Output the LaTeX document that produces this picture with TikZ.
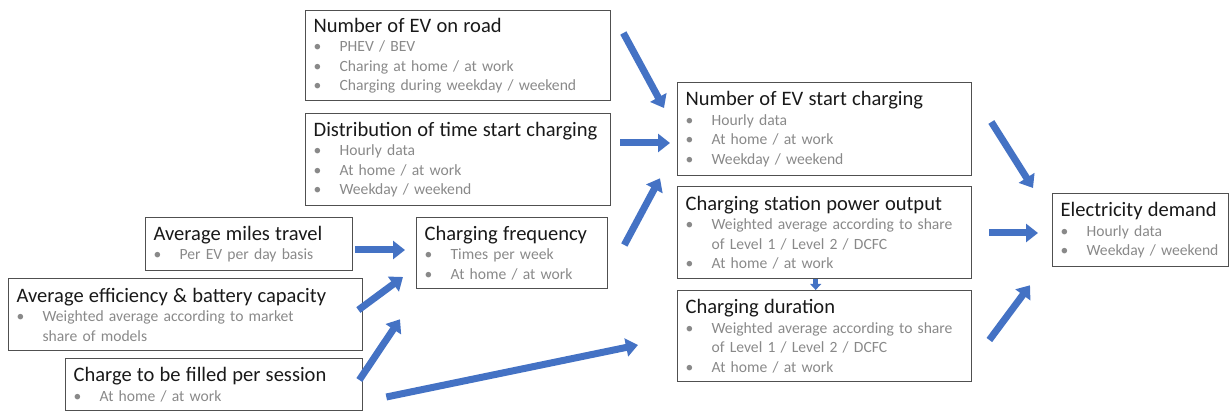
\documentclass[tikz,border=0pt]{standalone}
\usepackage{fontspec}
\setmainfont{Carlito}
\usepackage{xcolor}
\usetikzlibrary{arrows.meta}
\definecolor{FlowBlue}{RGB}{68,114,196}
\definecolor{BoxLine}{RGB}{80,80,80}
\definecolor{ItemGray}{RGB}{137,137,137}
\definecolor{TitleBlack}{RGB}{25,25,25}
\newcommand{\boxtitle}[1]{\mbox{\color{TitleBlack}\fontsize{14.6pt}{18pt}\selectfont #1}}
\newcommand{\bitem}[1]{\mbox{\makebox[0.65cm][l]{\textbullet}#1}}
\newcommand{\bcont}[1]{\mbox{\hspace*{0.65cm}#1}}

\begin{document}
\begin{tikzpicture}[
x=0.025cm,
y=-0.025cm,
box/.style={
draw=BoxLine,
line width=0.9pt,
anchor=north west,
align=left,
inner xsep=0.2cm,
inner ysep=0pt,
text=ItemGray,
font=\fontsize{11.1pt}{13.9pt}\selectfont
},
flow/.style={
draw=FlowBlue,
fill=FlowBlue,
line width=0.175cm,
-{Triangle[length=0.3cm,width=0.45cm]}
}
]
\useasboundingbox (0,0) rectangle (1230,411);

\node[box, text width=7.225cm, minimum height=2.25cm] (road) at (305,10)
{\boxtitle{Number of EV on road}\\ \bitem{PHEV / BEV}\\ \bitem{Charing at home / at work}\\ \bitem{Charging during weekday / weekend}};
\node[box, text width=7.225cm, minimum height=2.3cm] (dist) at (305,113)
{\boxtitle{Distribution of time start charging}\\ \bitem{Hourly data}\\ \bitem{At home / at work}\\ \bitem{Weekday / weekend}};
\node[box, text width=4.775cm, minimum height=1.325cm] (miles) at (145,217)
{\boxtitle{Average miles travel}\\ \bitem{Per EV per day basis}};
\node[box, text width=8.45cm, minimum height=1.8cm] (eff) at (8,278)
{\boxtitle{Average efficiency \& battery capacity}\\ \bitem{Weighted average according to market}\\ \bcont{share of models}};
\node[box, text width=7.025cm, minimum height=1.3cm] (fill) at (65,358)
{\boxtitle{Charge to be filled per session}\\ \bitem{At home / at work}};
\node[box, text width=4.375cm, minimum height=1.775cm] (freq) at (416,217)
{\boxtitle{Charging frequency}\\ \bitem{Times per week}\\ \bitem{At home / at work}};
\node[box, text width=6.95cm, minimum height=2.325cm] (start) at (677,82)
{\boxtitle{Number of EV start charging}\\ \bitem{Hourly data}\\ \bitem{At home / at work}\\ \bitem{Weekday / weekend}};
\node[box, text width=6.95cm, minimum height=2.3cm] (power) at (677,186)
{\boxtitle{Charging station power output}\\ \bitem{Weighted average according to share}\\ \bcont{of Level 1 / Level 2 / DCFC}\\ \bitem{At home / at work}};
\node[box, text width=6.95cm, minimum height=2.275cm] (dur) at (677,290)
{\boxtitle{Charging duration}\\ \bitem{Weighted average according to share}\\ \bcont{of Level 1 / Level 2 / DCFC}\\ \bitem{At home / at work}};
\node[box, text width=4cm, minimum height=1.825cm] (demand) at (1052,193)
{\boxtitle{Electricity demand}\\ \bitem{Hourly data}\\ \bitem{Weekday / weekend}};

\draw[flow] ([shift={(12,23)}]road.north east) -- ([shift={(-13,26)}]start.north west);
\draw[flow] ([shift={(9,30)}]dist.north east) -- ([shift={(-7,61)}]start.north west);
\draw[flow] ([shift={(16,28)}]freq.north east) -- ([shift={(-17,2)}]start.south west);
\draw[flow] ([shift={(2,33)}]miles.north east) -- ([shift={(-11,33)}]freq.north west);
\draw[flow] ([shift={(-5,32)}]eff.north east) -- ([shift={(-13,60)}]freq.north west);
\draw[flow] ([shift={(-4,22)}]fill.north east) -- ([shift={(-16,30)}]freq.south west);
\draw[flow] ([shift={(23,39)}]fill.north east) -- ([shift={(-39,55)}]dur.north west);
\draw[flow, line width=0.125cm, -{Triangle[length=0.15cm,width=0.27cm]}]
([shift={(-9,0)}]power.south) -- ([shift={(-9,0)}]dur.north);
\draw[flow] ([shift={(19,40)}]start.north east) -- ([shift={(-19,-5)}]demand.north west);
\draw[flow] ([shift={(17,47)}]power.north east) -- ([shift={(-14,40)}]demand.north west);
\draw[flow] ([shift={(17,50)}]dur.north east) -- ([shift={(-22,18)}]demand.south west);
\end{tikzpicture}
\end{document}
